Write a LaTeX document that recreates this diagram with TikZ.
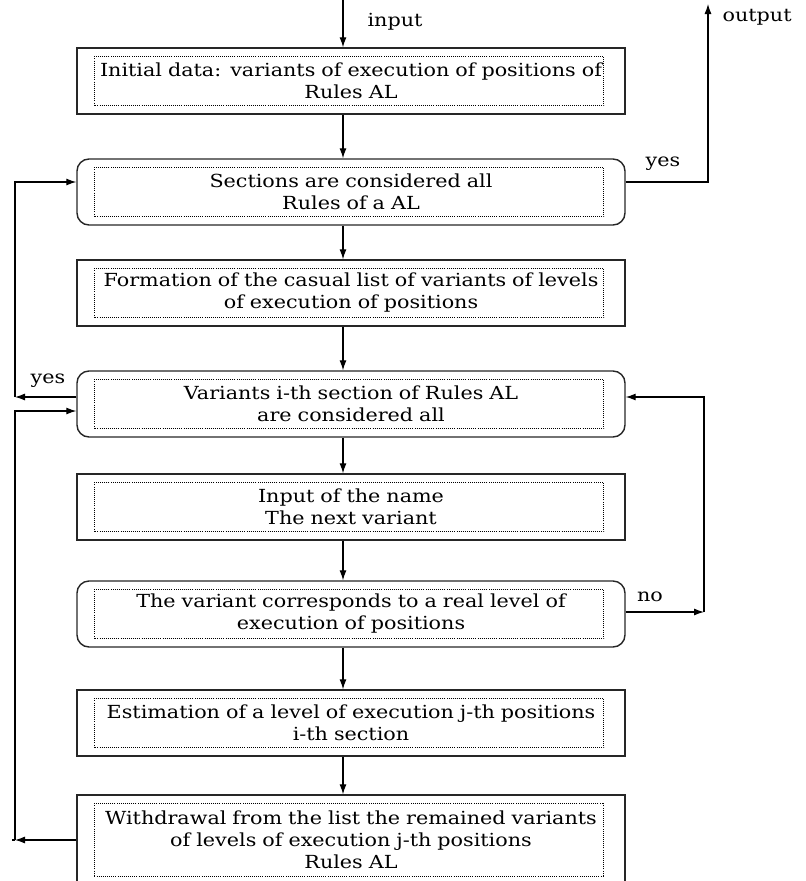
\documentclass[tikz,border=0pt]{standalone}
\usepackage{fontspec}
\setmainfont{DejaVu Serif}[FakeStretch=1.15]
\usetikzlibrary{arrows.meta,calc,positioning}

\tikzset{
  stepbox/.style={draw=black!85,line width=1.4pt,minimum width=548pt,
    minimum height=66pt,inner sep=0pt,align=center,text width=540pt},
  condbox/.style={stepbox,rounded corners=12pt},
  lbl/.style={inner sep=0pt},
  inframe/.style={line width=0.9pt,dash pattern=on 1pt off 1.1pt}
}

\begin{document}
\begin{tikzpicture}[x=1pt,y=-1pt,>={Latex[length=10pt,width=7pt]},
  every node/.style={font=\fontsize{18}{22}\selectfont},line width=1.1pt]
\useasboundingbox (0,0) rectangle (806,881);
\clip (0,0) rectangle (806,881);
% boxes of the chart, top to bottom
\node[stepbox] (init)  at (351,81)  {Initial data: variants of execution of positions of\\Rules AL};
\node[condbox] (sect)  at (351,192) {Sections are considered all\\Rules of a AL};
\node[stepbox] (form)  at (351,293) {Formation of the casual list of variants of levels\\of execution of positions};
\node[condbox] (var)   at (351,404) {Variants i-th section of Rules AL\\are considered all};
\node[stepbox] (name)  at (351,507) {Input of the name\\The next variant};
\node[condbox] (cons)  at (351,614) {The variant corresponds to a real level of\\execution of positions};
\node[stepbox] (est)   at (351,723) {Estimation of a level of execution j-th positions\\i-th section};
\node[stepbox,minimum height=90pt] (withd) at (351,840)
  {Withdrawal from the list the remained variants\\of levels of execution j-th positions\\Rules AL};
\foreach \n in {init,sect,form,var,name,cons,est,withd}
  \draw[inframe] ($(\n.north west)+(18,9)$) rectangle ($(\n.south east)+(-22,-9)$);
% main line
\coordinate (in) at (343,0);
\draw[->] (in) -- (init.north -| in) node[lbl,pos=.45,right=24pt] {input};
\draw[->] (init.south -| in) -- (sect.north -| in);
\draw[->] (sect.south -| in) -- (form.north -| in);
\draw[->] (form.south -| in) -- (var.north -| in);
\draw[->] (var.south -| in) -- (name.north -| in);
\draw[->] (name.south -| in) -- (cons.north -| in);
\draw[->] (cons.south -| in) -- (est.north -| in);
\draw[->] (est.south -| in) -- (withd.north -| in);
% exits and loops
\coordinate (out) at (708,4);
\draw[->] (sect.east |- 0,182) -| (out);
\node[lbl,right=14pt of out,yshift=-13pt] (outl) {output};
\node[lbl] (yes1) at (663,164) {yes};
\coordinate (yesL) at (15,397);
\draw[->] (var.west |- yesL) -- (yesL);
\draw[->] (yesL) |- (sect.west |- 0,182);
\node[lbl] (yes2) at (48,381) {yes};
\coordinate (botL) at (15,840);
\draw (botL) -- ++(-3,0);
\draw[->] (withd.west |- botL) -- (botL);
\draw[->] (botL) |- (var.west |- 0,411);
\coordinate (noR) at (704,612);
\draw[->] (cons.east |- noR) -- (noR);
\draw[->] (noR) |- (var.east |- 0,397);
\node[lbl] (no) at (650,597) {no};
\end{tikzpicture}
\end{document}
